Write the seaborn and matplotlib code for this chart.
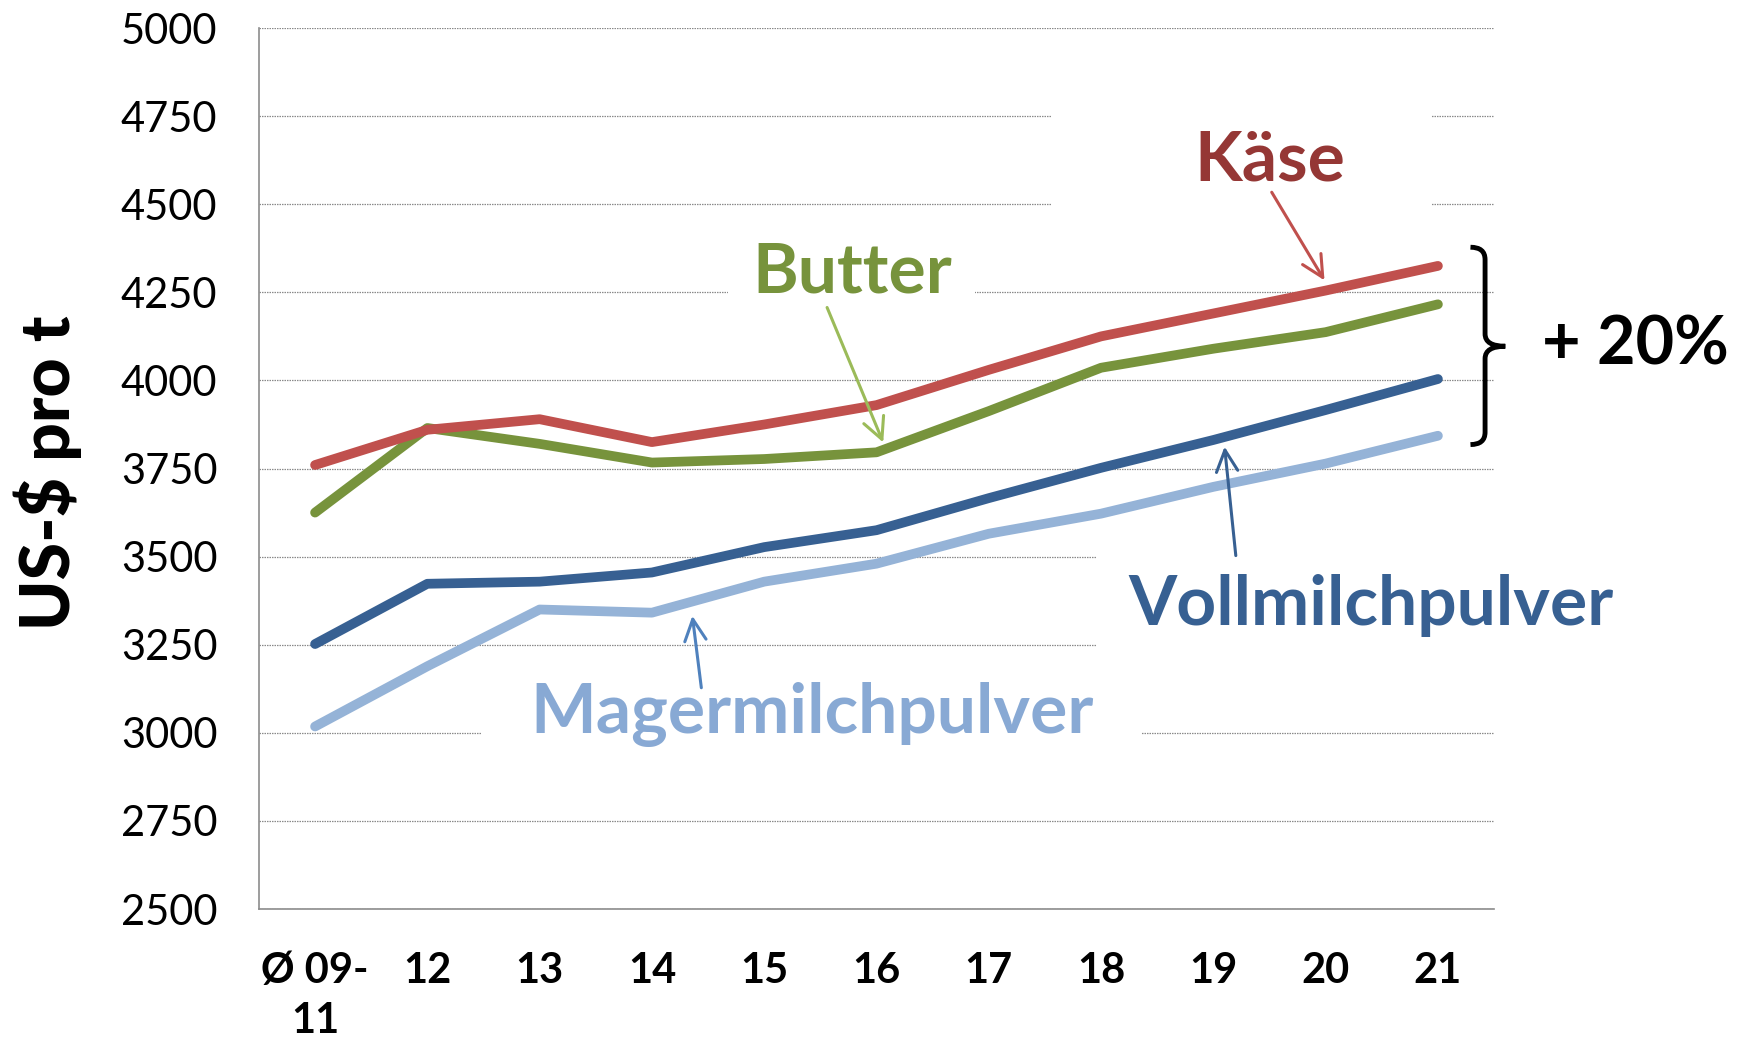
import matplotlib
matplotlib.use('Agg')
import matplotlib.pyplot as plt
import seaborn as sns
import pandas as pd
from matplotlib.patches import Rectangle, PathPatch
from matplotlib.path import Path

# ---------------- data ----------------
years = ['Ø 09-\n11', '12', '13', '14', '15', '16', '17', '18', '19', '20', '21']
kaese = [3760, 3860, 3890, 3825, 3875, 3930, 4030, 4125, 4190, 4255, 4325]
butter = [3625, 3865, 3820, 3767, 3777, 3796, 3913, 4036, 4090, 4137, 4216]
vollmilch = [3252, 3423, 3429, 3455, 3527, 3575, 3666, 3752, 3831, 3916, 4004]
magermilch = [3018, 3189, 3350, 3341, 3429, 3480, 3565, 3622, 3698, 3764, 3843]
yticks = list(range(2500, 5001, 250))
series_names = ['Magermilchpulver', 'Vollmilchpulver', 'Butter', 'Käse']
series_values = [magermilch, vollmilch, butter, kaese]
line_colors = ['#95B3D7', '#376092', '#77933C', '#C0504D']

rows = []
for name, vals in zip(series_names, series_values):
    for i, v in enumerate(vals):
        rows.append({'pos': i, 'wert': v, 'produkt': name})
df = pd.DataFrame(rows)

# ---------------- style ----------------
sns.set_style('white')
plt.rcParams['font.family'] = ['Lato', 'DejaVu Sans']

fig = plt.figure(figsize=(17.46, 10.42), dpi=100)
ax = fig.add_axes([0.1483, 0.1276, 0.7074, 0.8455])

sns.lineplot(data=df, x='pos', y='wert', hue='produkt', hue_order=series_names,
             palette=dict(zip(series_names, line_colors)), linewidth=7,
             solid_capstyle='round', legend=False, ax=ax, zorder=3)

ax.set_xlim(-0.5, len(years) - 0.5)
ax.set_ylim(2500, 5000)
ax.set_yticks(yticks)
ax.set_yticklabels([str(t) for t in yticks], fontsize=30, color='black')
ax.set_xticks(range(len(years)))
ax.set_xticklabels(years, fontsize=30, fontweight='bold', color='black')
for t in ax.get_xticklabels():
    t.set_linespacing(1.4)
ax.set_xticks([i - 0.5 for i in range(len(years) + 1)], minor=True)
ax.tick_params(axis='x', which='major', length=0, pad=31)
ax.tick_params(axis='x', which='minor', length=10, width=1, color='#8c8c8c', direction='out')
ax.tick_params(axis='y', which='major', length=10, width=1, color='#8c8c8c', direction='out', pad=20)
ax.set_xlabel('')
ax.set_ylabel('')

for s in ['top', 'right']:
    ax.spines[s].set_visible(False)
for s in ['left', 'bottom']:
    ax.spines[s].set_color('#8c8c8c')
    ax.spines[s].set_linewidth(1.2)

ax.set_axisbelow(True)
ax.yaxis.grid(True, color='#8a8a8a', linestyle=(0, (1.2, 0.8)), linewidth=0.9)

# white label boxes interrupting the gridlines
boxes = [(6.56, 4420, 9.95, 4830), (3.68, 4190, 5.88, 4320),
         (6.96, 3200, 10.5, 3560), (1.49, 2920, 7.36, 3080)]
for x0, y0, x1, y1 in boxes:
    ax.add_patch(Rectangle((x0, y0), x1 - x0, y1 - y0, facecolor='white',
                           edgecolor='none', zorder=1))

# y label
fig.text(48 / 1746, 1 - 473 / 1042, 'US-$ pro t', rotation=90, fontsize=49,
         fontweight='black', ha='center', va='center', color='black')

# series labels
labels = [('Käse', 8.50, 4622, '#953735'), ('Butter', 4.78, 4304, '#77933C'),
          ('Vollmilchpulver', 9.40, 3361, '#376092'),
          ('Magermilchpulver', 4.43, 3051, '#88A9D4')]
for txt, x, y, c in labels:
    ax.text(x, y, txt, fontsize=50, fontweight='bold', color=c, ha='center',
            va='center', zorder=4, clip_on=False)

# arrows
arrows = [((8.52, 4534), (8.99, 4284), '#C0504D'),
          ((4.56, 4207), (5.06, 3824), '#9BBB59'),
          ((8.20, 3503), (8.10, 3812), '#376092'),
          ((3.44, 3128), (3.36, 3332), '#4F81BD')]
for tail, head, c in arrows:
    ax.annotate('', xy=head, xytext=tail, zorder=5,
                arrowprops=dict(arrowstyle='->,head_length=0.7,head_width=0.35',
                                color=c, lw=2.2, mutation_scale=22,
                                shrinkA=0, shrinkB=0))

# brace and +20 %
x0, x1, x2 = 10.29, 10.42, 10.60
yt, yb, ym = 4378, 3818, 4097
verts = [(x0, yt), (x1, yt), (x1, yt - 35), (x1, ym + 35), (x1, ym), (x2, ym),
         (x2, ym), (x1, ym), (x1, ym - 35), (x1, yb + 35), (x1, yb), (x0, yb)]
codes = [Path.MOVETO, Path.CURVE3, Path.CURVE3, Path.LINETO, Path.CURVE3, Path.CURVE3,
         Path.MOVETO, Path.CURVE3, Path.CURVE3, Path.LINETO, Path.CURVE3, Path.CURVE3]
ax.add_patch(PathPatch(Path(verts, codes), facecolor='none', edgecolor='black',
                       lw=3.5, clip_on=False, zorder=5))
ax.text(11.76, 4099, '+ 20%', fontsize=48, fontweight='bold', color='black',
        ha='center', va='center', clip_on=False)

fig.savefig('out.png', dpi=100)
